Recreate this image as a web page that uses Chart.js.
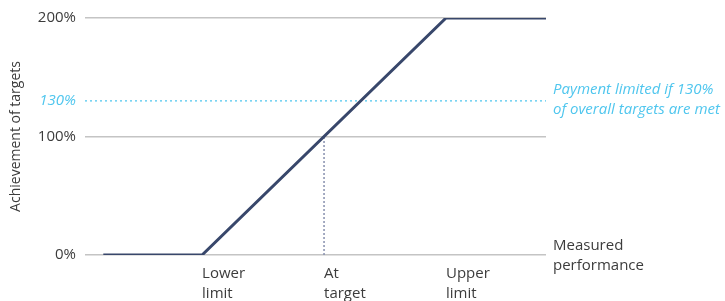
<!DOCTYPE html>
<html>
<head>
<meta charset="utf-8">
<script src="https://cdn.jsdelivr.net/npm/chart.js@4.4.0/dist/chart.umd.min.js"></script>
<style>
  html, body { margin: 0; padding: 0; background: #fff; }
  #wrap { width: 725px; height: 301px; }
</style>
</head>
<body>
<div id="wrap"><canvas id="myChart" width="725" height="301"></canvas></div>
<script>
// performance (x) and achievement in % (y)
var perfPoints = [63.8, 80, 120, 136.4];
var achievement = [0, 0, 200, 200];

// x ticks
var xTickValues = [80, 100, 120];
var xTickLabels = [['Lower', 'limit'], ['At', 'target'], ['Upper', 'limit']];

// y ticks
var yTickValues = [0, 100, 130, 200];
var yTickLabels = ['0%', '100%', '130%', '200%'];

var capValue = 130;
var targetPerf = 100;
var targetAchievement = 100;

var fontFamily = '"Open Sans", "Noto Sans", sans-serif';
var cyan = '#4fc6ee';
var gray = '#3c3c3c';

var xMin = 60.8, xMax = 136.4;

// texts drawn right of the plot
var sideTexts = {
  id: 'sideTexts',
  afterDraw: function (chart) {
    var ctx = chart.ctx;
    var x = chart.chartArea.right + 7;
    var y0 = chart.scales.y.getPixelForValue(0);
    var yCap = chart.scales.y.getPixelForValue(capValue);
    ctx.save();
    ctx.textAlign = 'left';
    ctx.textBaseline = 'alphabetic';
    ctx.fillStyle = gray;
    ctx.font = '15px ' + fontFamily;
    ctx.fillText('Measured', x, y0 - 5);
    ctx.fillText('performance', x, y0 + 15);
    ctx.fillStyle = cyan;
    ctx.font = 'italic 15px ' + fontFamily;
    ctx.fillText('Payment limited if 130%', x, yCap - 7);
    ctx.fillText('of overall targets are met', x, yCap + 13);
    ctx.restore();
  }
};

var ctx = document.getElementById('myChart').getContext('2d');
var myChart = new Chart(ctx, {
  type: 'line',
  data: {
    datasets: [
      {
        label: 'Achievement',
        data: perfPoints.map(function (p, i) { return { x: p, y: achievement[i] }; }),
        borderColor: '#38476b',
        borderWidth: 3,
        pointRadius: 0,
        fill: false,
        order: 1
      },
      {
        label: 'Cap',
        data: [{ x: xMin, y: capValue }, { x: xMax, y: capValue }],
        borderColor: cyan,
        borderWidth: 1.2,
        borderDash: [2, 3],
        pointRadius: 0,
        fill: false,
        order: 3
      },
      {
        label: 'Target',
        data: [{ x: targetPerf, y: 0 }, { x: targetPerf, y: targetAchievement }],
        borderColor: '#8790ae',
        borderWidth: 1.5,
        borderDash: [2, 2],
        pointRadius: 0,
        fill: false,
        order: 2
      }
    ]
  },
  options: {
    responsive: false,
    animation: false,
    layout: { padding: { top: 16, right: 179, left: 0, bottom: 0 } },
    plugins: {
      legend: { display: false },
      tooltip: { enabled: false }
    },
    scales: {
      x: {
        type: 'linear',
        min: xMin,
        max: xMax,
        afterBuildTicks: function (scale) {
          scale.ticks = xTickValues.map(function (v) { return { value: v }; });
        },
        afterFit: function (scale) { scale.height = 46; },
        grid: { display: false, drawTicks: false },
        border: { display: false },
        ticks: {
          align: 'start',
          padding: 9,
          color: gray,
          font: { family: fontFamily, size: 15, lineHeight: 1.3 },
          maxRotation: 0,
          callback: function (value) {
            var i = xTickValues.indexOf(value);
            return i >= 0 ? xTickLabels[i] : '';
          }
        }
      },
      y: {
        min: 0,
        max: 200,
        afterBuildTicks: function (scale) {
          scale.ticks = yTickValues.map(function (v) { return { value: v }; });
        },
        afterFit: function (scale) { scale.width = 85; },
        grid: {
          drawTicks: false,
          lineWidth: 1.5,
          color: function (c) {
            return c.tick && c.tick.value === capValue ? 'rgba(0,0,0,0)' : '#c4c4c4';
          }
        },
        border: { display: false },
        ticks: {
          padding: 9,
          color: function (c) {
            return c.tick && c.tick.value === capValue ? cyan : gray;
          },
          font: function (c) {
            var italic = c.tick && c.tick.value === capValue;
            return { family: fontFamily, size: 15, style: italic ? 'italic' : 'normal' };
          },
          callback: function (value) {
            var i = yTickValues.indexOf(value);
            return i >= 0 ? yTickLabels[i] : '';
          }
        },
        title: {
          display: true,
          text: 'Achievement of targets',
          color: gray,
          font: { family: fontFamily, size: 14 },
          padding: { top: 8, bottom: 2 }
        }
      }
    }
  },
  plugins: [sideTexts]
});
</script>
</body>
</html>
